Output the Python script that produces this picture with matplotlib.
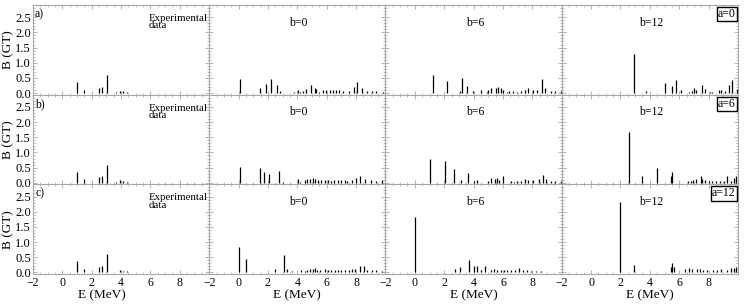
import matplotlib
matplotlib.use("Agg")
import matplotlib.pyplot as plt
from matplotlib.ticker import MultipleLocator, FixedLocator

plt.rcParams['font.family'] = ['Liberation Serif', 'DejaVu Serif']
plt.rcParams['axes.unicode_minus'] = True

# ---------------- data ----------------
a_values = [0, 6, 12]
b_values = [0, 6, 12]
row_letters = ["a)", "b)", "c)"]
x_ticks = [-2, 0, 2, 4, 6, 8]
y_ticks = [0.0, 0.5, 1.0, 1.5, 2.0, 2.5]

exp_E = [1.02, 1.45, 2.5, 2.72, 3.05, 3.64, 3.9, 4.14, 4.43]
exp_B = [0.37, 0.12, 0.18, 0.21, 0.60, 0.03, 0.08, 0.06, 0.04]

# a=0
a0_b0_E = [0.11, 1.48, 1.9, 2.24, 2.63, 2.8, 3.54, 3.8, 4.04, 4.2, 4.4, 4.6, 4.95, 5.18, 5.3, 5.5,
           5.78, 5.96, 6.2, 6.46, 6.64, 6.83, 7.1, 7.5, 7.83, 8.08, 8.42, 8.74, 9.06, 9.38, 9.8]
a0_b0_B = [0.47, 0.17, 0.30, 0.48, 0.27, 0.06, 0.02, 0.04, 0.10, 0.05, 0.06, 0.13, 0.26, 0.17, 0.13, 0.05,
           0.09, 0.09, 0.11, 0.10, 0.11, 0.09, 0.07, 0.07, 0.19, 0.37, 0.18, 0.08, 0.07, 0.07, 0.05]
a0_b6_E = [1.23, 2.16, 3.07, 3.2, 3.57, 3.98, 4.52, 4.89, 4.98, 5.2, 5.5, 5.68, 5.84, 6.02, 6.25, 6.4,
           6.66, 6.98, 7.2, 7.5, 7.73, 8.05, 8.32, 8.66, 8.86, 9.25, 9.57, 9.93]
a0_b6_B = [0.61, 0.41, 0.08, 0.49, 0.24, 0.07, 0.09, 0.04, 0.09, 0.17, 0.16, 0.21, 0.18, 0.11, 0.04, 0.08,
           0.08, 0.04, 0.07, 0.11, 0.18, 0.12, 0.09, 0.48, 0.17, 0.06, 0.08, 0.07]
a0_b12_E = [2.91, 3.73, 5.0, 5.5, 5.8, 6.14, 6.66, 6.84, 7.0, 7.14, 7.57, 7.75, 8.1, 8.23, 8.68, 8.86,
            9.1, 9.39, 9.61, 9.9]
a0_b12_B = [1.30, 0.08, 0.33, 0.22, 0.44, 0.12, 0.03, 0.08, 0.16, 0.11, 0.28, 0.13, 0.04, 0.04, 0.11, 0.09,
            0.08, 0.27, 0.42, 0.13]

# a=6
a6_b0_E = [0.07, 1.48, 1.76, 2.1, 2.76, 3.0, 3.72, 4.04, 4.2, 4.5, 4.68, 4.86, 5.07, 5.23, 5.4, 5.64,
           5.87, 6.1, 6.32, 6.5, 6.78, 7.0, 7.24, 7.4, 7.7, 7.97, 8.26, 8.6, 9.0, 9.34, 9.75]
a6_b0_B = [0.51, 0.48, 0.36, 0.28, 0.38, 0.03, 0.01, 0.13, 0.03, 0.08, 0.12, 0.11, 0.16, 0.12, 0.10, 0.08,
           0.09, 0.08, 0.07, 0.10, 0.08, 0.08, 0.10, 0.06, 0.10, 0.17, 0.24, 0.12, 0.08, 0.07, 0.08]
a6_b6_E = [1.02, 2.05, 2.7, 3.16, 3.6, 4.0, 4.2, 4.84, 4.98, 5.16, 5.48, 5.6, 5.73, 5.98, 6.52, 6.75,
           6.98, 7.2, 7.48, 7.7, 8.02, 8.48, 8.75, 8.95, 9.3, 9.57, 9.93]
a6_b6_B = [0.79, 0.71, 0.44, 0.08, 0.31, 0.07, 0.08, 0.01, 0.06, 0.17, 0.12, 0.16, 0.08, 0.23, 0.07, 0.04,
           0.06, 0.06, 0.12, 0.10, 0.10, 0.14, 0.27, 0.14, 0.06, 0.06, 0.06]
a6_b12_E = [2.55, 3.48, 4.48, 5.42, 5.48, 6.61, 6.77, 6.93, 7.11, 7.45, 7.57, 7.73, 8.02, 8.25, 8.48, 8.77,
            9.05, 9.27, 9.5, 9.73, 9.89]
a6_b12_B = [1.67, 0.23, 0.48, 0.21, 0.37, 0.07, 0.06, 0.08, 0.12, 0.24, 0.14, 0.08, 0.06, 0.06, 0.06, 0.06,
            0.06, 0.22, 0.06, 0.17, 0.21]

# a=12
a12_b0_E = [0.0, 0.53, 2.49, 3.06, 3.31, 3.65, 4.04, 4.27, 4.5, 4.68, 4.86, 5.05, 5.18, 5.36, 5.55, 5.91,
            6.1, 6.32, 6.55, 6.78, 7.0, 7.28, 7.55, 7.74, 7.92, 8.26, 8.56, 8.74, 9.06, 9.34, 9.75]
a12_b0_B = [0.85, 0.45, 0.13, 0.58, 0.11, 0.04, 0.02, 0.08, 0.06, 0.08, 0.11, 0.13, 0.14, 0.09, 0.07, 0.11,
            0.08, 0.07, 0.09, 0.08, 0.07, 0.08, 0.08, 0.13, 0.13, 0.22, 0.22, 0.07, 0.07, 0.07, 0.06]
a12_b6_E = [0.0, 2.75, 3.05, 3.7, 4.02, 4.25, 4.48, 4.8, 5.16, 5.39, 5.61, 5.84, 6.07, 6.3, 6.57, 6.84,
            7.07, 7.34, 7.66, 7.93, 8.25, 8.57, 8.93, 9.25, 9.57, 9.93]
a12_b6_B = [1.83, 0.11, 0.18, 0.42, 0.23, 0.21, 0.07, 0.21, 0.08, 0.11, 0.08, 0.07, 0.07, 0.09, 0.07, 0.08,
            0.16, 0.08, 0.07, 0.06, 0.04, 0.04, 0.03, 0.03, 0.03, 0.03]
a12_b12_E = [1.95, 2.95, 5.41, 5.5, 5.64, 6.36, 6.66, 6.89, 7.23, 7.41, 7.59, 7.91, 8.27, 8.59, 8.86, 9.27,
             9.5, 9.73, 9.89]
a12_b12_B = [2.33, 0.26, 0.17, 0.31, 0.17, 0.11, 0.16, 0.11, 0.13, 0.11, 0.08, 0.07, 0.07, 0.09, 0.11, 0.08,
             0.16, 0.16, 0.18]

theory = [
    [(a0_b0_E, a0_b0_B), (a0_b6_E, a0_b6_B), (a0_b12_E, a0_b12_B)],
    [(a6_b0_E, a6_b0_B), (a6_b6_E, a6_b6_B), (a6_b12_E, a6_b12_B)],
    [(a12_b0_E, a12_b0_B), (a12_b6_E, a12_b6_B), (a12_b12_E, a12_b12_B)],
]

# ---------------- figure ----------------
fig = plt.figure(figsize=(7.48, 3.05), dpi=100)
gs = fig.add_gridspec(3, 4, left=0.044, right=0.9866, top=0.9836, bottom=0.1016,
                      wspace=0, hspace=0)

frame_col = "#a8a8a8"

for r in range(3):
    for c in range(4):
        ax = fig.add_subplot(gs[r, c])
        if c == 0:
            E, B = exp_E, exp_B
        else:
            E, B = theory[r][c - 1]
        ax.vlines(E, 0, B, colors="black", linewidth=0.9)
        ax.set_xlim(-2, 10)
        ax.set_ylim(-0.05, 2.9)
        ax.xaxis.set_major_locator(FixedLocator(x_ticks))
        ax.xaxis.set_minor_locator(MultipleLocator(0.5))
        ax.yaxis.set_major_locator(FixedLocator(y_ticks))
        ax.yaxis.set_minor_locator(MultipleLocator(0.1))
        ax.tick_params(which="both", direction="in", top=True, right=True,
                       color=frame_col)
        ax.tick_params(axis="y", labelsize=9, pad=1.5)
        ax.tick_params(axis="x", labelsize=8.5, pad=2.5)
        ax.tick_params(which="major", length=3, width=0.6)
        ax.tick_params(which="minor", length=1.5, width=0.5)
        for s in ax.spines.values():
            s.set_color(frame_col)
            s.set_linewidth(0.8)

        if c == 0:
            ax.set_yticklabels([f"{v:.1f}" for v in y_ticks])
            ax.set_ylabel("B (GT)", fontsize=9.5, labelpad=0.5)
            ax.text(0.012, 0.965, row_letters[r], transform=ax.transAxes,
                    ha="left", va="top", fontsize=8.5)
            ax.text(5.85, 2.6, "Experimental\ndata", ha="left", va="top",
                    fontsize=7.8, linespacing=0.75)
        else:
            ax.set_yticklabels([])
            ax.text(4.1, 2.32, f"b={b_values[c - 1]}", ha="center", va="center",
                    fontsize=8.5)
        if c == 3:
            ax.text(0.987, 0.965, f"a={a_values[r]}", transform=ax.transAxes,
                    ha="right", va="top", fontsize=8.5,
                    bbox=dict(boxstyle="square,pad=0.1", facecolor="white",
                              edgecolor="black", linewidth=1.0))
        if r == 2:
            ax.set_xticklabels([str(v).replace("-", "\u2212") for v in x_ticks])
            xpos = 0.39 if c == 0 else 0.5
            ax.text(xpos, -0.24, "E (MeV)", transform=ax.transAxes,
                    ha="center", va="center", fontsize=9.5)
        else:
            ax.set_xticklabels([])

fig.savefig("out.png", dpi=100)
